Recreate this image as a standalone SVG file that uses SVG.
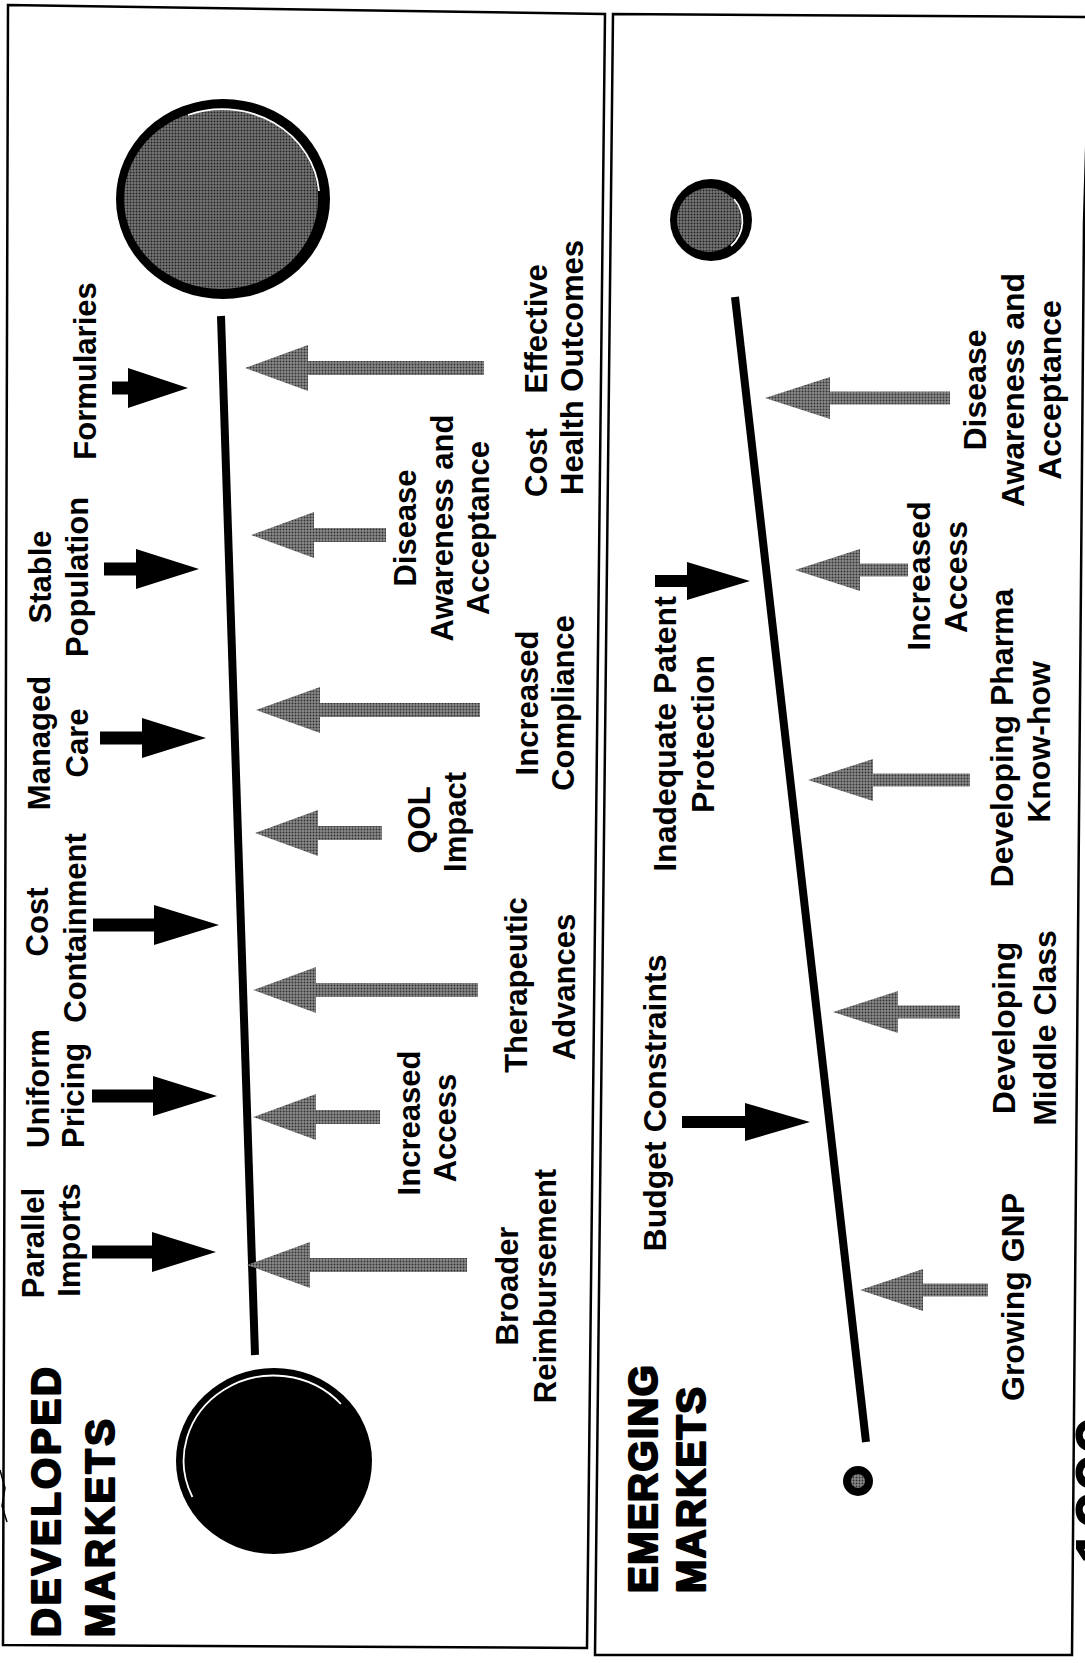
<svg xmlns="http://www.w3.org/2000/svg" width="1085" height="1663" viewBox="0 0 1085 1663">
  <defs>
    <!-- halftone fill for the pulling forces and market-size discs -->
    <pattern id="stipple" width="3" height="3" patternUnits="userSpaceOnUse">
      <rect width="3" height="3" fill="#8a8a8a"/>
      <circle cx="1.5" cy="1.5" r="1" fill="#333"/>
    </pattern>
    <pattern id="stippleDark" width="3" height="3" patternUnits="userSpaceOnUse">
      <rect width="3" height="3" fill="#777"/>
      <circle cx="1.5" cy="1.5" r="1" fill="#222"/>
    </pattern>
  </defs>
  <style>
    .frame{fill:none;stroke:#000;stroke-width:2.5;stroke-linejoin:miter}
    .axis{stroke:#000;stroke-width:8;stroke-linecap:butt}
    .push{fill:#000}
    .pull{fill:url(#stipple)}
    .hl{fill:none;stroke:#fff;stroke-width:1.8}
    text{font-family:"Liberation Sans",Arial,Helvetica,sans-serif;font-weight:bold;fill:#000}
    .t{font-size:31px}
    .e{font-size:32px}
    .m{text-anchor:middle}
    .h{font-size:40px;stroke:#000;stroke-width:2.2;stroke-linejoin:round}
  </style>

  <rect width="1085" height="1663" fill="#fff"/>

  <!-- panel frames -->
  <g id="frames">
    <polygon class="frame" points="8,5 605,14 587,1648 3,1645"/>
    <polyline class="frame" points="1095,17 613,14 595,1655 1072,1655 1084,223 1090,17"/>
    <polyline fill="none" stroke="#000" stroke-width="1.5" points="0,1470 5,1488 2,1506 7,1522"/>
  </g>

  <!-- market-size discs -->
  <g id="dev-start">
    <ellipse cx="274" cy="1461" rx="98" ry="93" fill="#000"/>
    <path class="hl" d="M192.4,1497 A90,85 0 0,1 340.9,1404"/>
  </g>
  <g id="dev-end">
    <ellipse cx="223" cy="199" rx="107" ry="100" fill="#000"/>
    <ellipse cx="221" cy="199" rx="97" ry="90" fill="url(#stippleDark)"/>
    <path class="hl" d="M188,115 A97,90 0 0,1 319,191"/>
  </g>
  <g id="emg-start">
    <circle cx="858" cy="1481" r="15" fill="#000"/>
    <circle cx="858" cy="1481" r="7" fill="url(#stipple)"/>
  </g>
  <g id="emg-end">
    <circle cx="711" cy="220" r="41" fill="#000"/>
    <circle cx="709" cy="220" r="32" fill="url(#stippleDark)"/>
    <path class="hl" d="M734,199 A33,33 0 0,1 731,246"/>
  </g>

  <!-- growth axes and force arrows -->
  <g id="connectors">
    <line class="axis" x1="221" y1="316" x2="255" y2="1355"/>
    <line class="axis" x1="735" y1="297" x2="866" y2="1442"/>

    <!-- developed: restraining forces -->
    <polygon class="push" points="112,381.5 128,381.5 128,368 188,388 128,408 128,394.5 112,394.5"/>
    <polygon class="push" points="104,562.5 136,562.5 136,549 199,569 136,589 136,575.5 104,575.5"/>
    <polygon class="push" points="100,731.5 142,731.5 142,718 206,738 142,758 142,744.5 100,744.5"/>
    <polygon class="push" points="93,918.5 154,918.5 154,905 219,925 154,945 154,931.5 93,931.5"/>
    <polygon class="push" points="92,1089.5 153,1089.5 153,1076 217,1096 153,1116 153,1102.5 92,1102.5"/>
    <polygon class="push" points="92,1245.5 152,1245.5 152,1232 216,1252 152,1272 152,1258.5 92,1258.5"/>

    <!-- developed: driving forces -->
    <polygon class="pull" points="484,361 308,361 308,345 245,368 308,391 308,375 484,375"/>
    <polygon class="pull" points="386,528 314,528 314,512 251,535 314,558 314,542 386,542"/>
    <polygon class="pull" points="480,703 320,703 320,687 256,710 320,733 320,717 480,717"/>
    <polygon class="pull" points="382,826 318,826 318,810 255,833 318,856 318,840 382,840"/>
    <polygon class="pull" points="478,983 316,983 316,967 253,990 316,1013 316,997 478,997"/>
    <polygon class="pull" points="380,1110 316,1110 316,1094 253,1117 316,1140 316,1124 380,1124"/>
    <polygon class="pull" points="467,1258 310,1258 310,1242 247,1265 310,1288 310,1272 467,1272"/>

    <!-- emerging: restraining forces -->
    <polygon class="push" points="655,575 687,575 687,562 750,581 687,600 687,587 655,587"/>
    <polygon class="push" points="682,1116 745,1116 745,1103 810,1122 745,1141 745,1128 682,1128"/>

    <!-- emerging: driving forces -->
    <polygon class="pull" points="950,391.5 830,391.5 830,377 765,398 830,419 830,404.5 950,404.5"/>
    <polygon class="pull" points="908,563.5 860,563.5 860,549 795,570 860,591 860,576.5 908,576.5"/>
    <polygon class="pull" points="970,773.5 873,773.5 873,759 808,780 873,801 873,786.5 970,786.5"/>
    <polygon class="pull" points="960,1005.5 898,1005.5 898,991 833,1012 898,1033 898,1018.5 960,1018.5"/>
    <polygon class="pull" points="988,1283.5 923,1283.5 923,1269 860,1290 923,1311 923,1296.5 988,1296.5"/>
  </g>

  <!-- panel headings (rotated page: text runs bottom to top) -->
  <g id="dev-title">
    <text class="h" transform="rotate(-90)" x="-1637" y="60" textLength="270" lengthAdjust="spacing">DEVELOPED</text>
    <text class="h" transform="rotate(-90)" x="-1637" y="114" textLength="218" lengthAdjust="spacing">MARKETS</text>
  </g>
  <g id="emg-title">
    <text class="h" transform="rotate(-90)" x="-1593" y="657" textLength="228" lengthAdjust="spacing">EMERGING</text>
    <text class="h" transform="rotate(-90)" x="-1593" y="705" textLength="206" lengthAdjust="spacing">MARKETS</text>
  </g>

  <!-- developed markets: restraining labels -->
  <g id="dev-parallel-imports">
    <text class="t m" transform="rotate(-90)" x="-1243" y="44">Parallel</text>
    <text class="t m" transform="rotate(-90)" x="-1240" y="80">Imports</text>
  </g>
  <g id="dev-uniform-pricing">
    <text class="t" transform="rotate(-90)" x="-1148" y="49">Uniform</text>
    <text class="t" transform="rotate(-90)" x="-1148" y="84">Pricing</text>
  </g>
  <g id="dev-cost-containment">
    <text class="t m" transform="rotate(-90)" x="-922" y="48">Cost</text>
    <text class="t m" transform="rotate(-90)" x="-928" y="86">Containment</text>
  </g>
  <g id="dev-managed-care">
    <text class="t m" transform="rotate(-90)" x="-743" y="50">Managed</text>
    <text class="t m" transform="rotate(-90)" x="-743" y="88">Care</text>
  </g>
  <g id="dev-stable-population">
    <text class="t m" transform="rotate(-90)" x="-577" y="51">Stable</text>
    <text class="t m" transform="rotate(-90)" x="-577" y="88">Population</text>
  </g>
  <g id="dev-formularies">
    <text class="t m" transform="rotate(-90)" x="-371" y="96">Formularies</text>
  </g>

  <!-- developed markets: driving labels -->
  <g id="dev-cost-effective">
    <text class="t" transform="rotate(-90)" x="-497" y="547" word-spacing="26">Cost Effective</text>
    <text class="t" transform="rotate(-90)" x="-495" y="583">Health Outcomes</text>
  </g>
  <g id="dev-disease-awareness">
    <text class="t m" transform="rotate(-90)" x="-528" y="416">Disease</text>
    <text class="t m" transform="rotate(-90)" x="-528" y="453">Awareness and</text>
    <text class="t m" transform="rotate(-90)" x="-528" y="489">Acceptance</text>
  </g>
  <g id="dev-compliance">
    <text class="t m" transform="rotate(-90)" x="-703" y="538">Increased</text>
    <text class="t m" transform="rotate(-90)" x="-703" y="574">Compliance</text>
  </g>
  <g id="dev-qol">
    <text class="t m" transform="rotate(-90)" x="-820" y="430">QOL</text>
    <text class="t m" transform="rotate(-90)" x="-822" y="466">Impact</text>
  </g>
  <g id="dev-therapeutic">
    <text class="t m" transform="rotate(-90)" x="-985" y="527">Therapeutic</text>
    <text class="t m" transform="rotate(-90)" x="-987" y="575">Advances</text>
  </g>
  <g id="dev-access">
    <text class="t m" transform="rotate(-90)" x="-1123" y="420">Increased</text>
    <text class="t m" transform="rotate(-90)" x="-1128" y="456">Access</text>
  </g>
  <g id="dev-reimbursement">
    <text class="t m" transform="rotate(-90)" x="-1286" y="518">Broader</text>
    <text class="t m" transform="rotate(-90)" x="-1286" y="556">Reimbursement</text>
  </g>

  <!-- emerging markets: restraining labels -->
  <g id="emg-patent">
    <text class="e m" transform="rotate(-90)" x="-734" y="676">Inadequate Patent</text>
    <text class="e m" transform="rotate(-90)" x="-734" y="714">Protection</text>
  </g>
  <g id="emg-budget">
    <text class="e m" transform="rotate(-90)" x="-1103" y="666">Budget Constraints</text>
  </g>

  <!-- emerging markets: driving labels -->
  <g id="emg-disease-awareness">
    <text class="e m" transform="rotate(-90)" x="-390" y="986">Disease</text>
    <text class="e m" transform="rotate(-90)" x="-390" y="1024">Awareness and</text>
    <text class="e m" transform="rotate(-90)" x="-390" y="1061">Acceptance</text>
  </g>
  <g id="emg-access">
    <text class="e m" transform="rotate(-90)" x="-576" y="930">Increased</text>
    <text class="e m" transform="rotate(-90)" x="-577" y="967">Access</text>
  </g>
  <g id="emg-pharma">
    <text class="e m" transform="rotate(-90)" x="-738" y="1013">Developing Pharma</text>
    <text class="e m" transform="rotate(-90)" x="-742" y="1050">Know-how</text>
  </g>
  <g id="emg-middle-class">
    <text class="e m" transform="rotate(-90)" x="-1028" y="1015">Developing</text>
    <text class="e m" transform="rotate(-90)" x="-1028" y="1056">Middle Class</text>
  </g>
  <g id="emg-gnp">
    <text class="e m" transform="rotate(-90)" x="-1297" y="1024">Growing GNP</text>
  </g>

  <!-- year caption running off the right edge -->
  <g id="year">
    <text transform="rotate(-90)" x="-1565" y="1122" font-size="67">1999</text>
  </g>
</svg>
